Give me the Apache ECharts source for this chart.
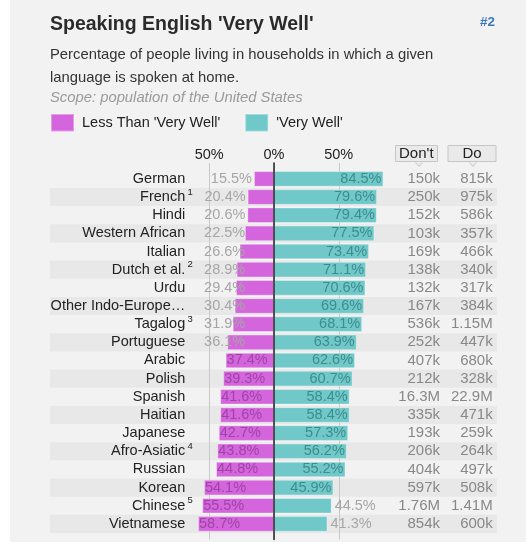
<!DOCTYPE html>
<html><head><meta charset="utf-8">
<script src="https://cdn.jsdelivr.net/npm/echarts@6/dist/echarts.min.js"></script>
<style>
html,body{margin:0;padding:0;background:#fff;}
#panel{position:absolute;left:10px;top:0;width:516px;height:542px;background:#f2f2f2;}
#chart{position:absolute;left:0;top:0;width:526px;height:544px;}
</style></head><body>
<div id="panel"></div><div id="chart"></div>
<script>
const languages = ['German','French','Hindi','Western African','Italian','Dutch et al.','Urdu','Other Indo-Europe\u2026','Tagalog','Portuguese','Arabic','Polish','Spanish','Haitian','Japanese','Afro-Asiatic','Russian','Korean','Chinese','Vietnamese'];
const footnotes = ['','1','','','','2','','','3','','','','','','','4','','','5',''];
const lessThanVeryWell = [15.5,20.4,20.6,22.5,26.6,28.9,29.4,30.4,31.9,36.1,37.4,39.3,41.6,41.6,42.7,43.8,44.8,54.1,55.5,58.7];
const veryWell = [84.5,79.6,79.4,77.5,73.4,71.1,70.6,69.6,68.1,63.9,62.6,60.7,58.4,58.4,57.3,56.2,55.2,45.9,44.5,41.3];
const dontCounts = ['150k','250k','152k','103k','169k','138k','132k','167k','536k','252k','407k','212k','16.3M','335k','193k','206k','404k','597k','1.76M','854k'];
const doCounts = ['815k','975k','586k','357k','466k','340k','317k','384k','1.15M','447k','680k','328k','22.9M','471k','259k','264k','497k','508k','1.41M','600k'];
const percentTicks = [-50, 0, 50];

const FONT = '"Liberation Sans", Arial, Helvetica, sans-serif';
const MAGENTA = '#d465dc', TEAL = '#70c8c8';
const GRAY_LABEL = '#a6a6a6';
const LESS_NAME = "Less Than 'Very Well'", VW_NAME = "'Very Well'";

function lessItem(v, offsetX) {
  if (v >= 37) return {value: -v, label: {position: 'insideLeft', distance: 1, color: '#9e44a6'}};
  return {value: -v, label: {position: 'left', distance: 2, color: GRAY_LABEL, offset: [offsetX || 0, 0]}};
}
function vwItem(v) {
  if (v >= 45) return {value: v, label: {position: 'insideRight', distance: 2, color: '#3e8d8e'}};
  return {value: v, label: {position: 'right', distance: 3, color: GRAY_LABEL}};
}

const chart = echarts.init(document.getElementById('chart'), null, {renderer: 'canvas'});
const labelFmt = p => Math.abs(p.value).toFixed(1) + '%';

const option = {
  backgroundColor: 'transparent',
  animation: false,
  textStyle: {fontFamily: FONT},
  title: [
    {text: "Speaking English 'Very Well'", left: 50, top: 12.5, padding: 0,
     textStyle: {fontSize: 19.5, fontWeight: 'bold', color: '#2b2b2b', lineHeight: 24, fontFamily: FONT}},
    {text: '#2', left: 480, top: 14, padding: 0,
     textStyle: {fontSize: 13.5, fontWeight: 'bold', color: '#3b78c4', lineHeight: 16, fontFamily: FONT}},
    {text: 'Percentage of people living in households in which a given\nlanguage is spoken at home.', left: 50, top: 43.4, padding: 0,
     textStyle: {fontSize: 14.8, fontWeight: 'normal', color: '#333', lineHeight: 23.3, fontFamily: FONT}},
    {text: 'Scope: population of the United States', left: 50, top: 88.3, padding: 0,
     textStyle: {fontSize: 14.8, fontStyle: 'italic', fontWeight: 'normal', color: '#9a9a9a', lineHeight: 20, fontFamily: FONT}},
    {text: "Don't", left: 395, top: 145, padding: [1, 4], backgroundColor: '#eaeaea', borderColor: '#c6c6c6', borderWidth: 1,
     textStyle: {fontSize: 15, fontWeight: 'normal', color: '#222', lineHeight: 15, fontFamily: FONT}},
    {text: 'Do', left: 448, top: 145, padding: [1, 14.5], backgroundColor: '#eaeaea', borderColor: '#c6c6c6', borderWidth: 1,
     textStyle: {fontSize: 15, fontWeight: 'normal', color: '#222', lineHeight: 15, fontFamily: FONT}}
  ],
  legend: {
    left: 50, top: 113, padding: 0, itemGap: 24, itemWidth: 23, itemHeight: 17.5, icon: 'rect',
    data: [LESS_NAME, VW_NAME],
    textStyle: {fontSize: 14.5, color: '#222', fontFamily: FONT, padding: [0, 0, 0, 3]}
  },
  graphic: [
    {type: 'polyline', left: 415, top: 162, z: 100, shape: {points: [[0,0],[3.5,4],[7,0]]}, style: {stroke: '#c6c6c6', fill: '#eaeaea', lineWidth: 1}},
    {type: 'polyline', left: 469, top: 162, z: 100, shape: {points: [[0,0],[3.5,4],[7,0]]}, style: {stroke: '#c6c6c6', fill: '#eaeaea', lineWidth: 1}}
  ],
  grid: [
    {left: 50, top: 169.8, width: 447, height: 363.2, containLabel: false},
    {left: 144.5, top: 163, width: 259, height: 376.5, containLabel: false}
  ],
  xAxis: [
    {gridIndex: 0, type: 'value', min: -173, max: 172.2, show: false},
    {gridIndex: 1, type: 'value', min: -100, max: 100, interval: 50, position: 'top', z: 1,
     axisLine: {show: false, onZero: false}, axisTick: {show: false},
     axisLabel: {show: true, showMinLabel: false, showMaxLabel: false, margin: 1, fontSize: 14.5, color: '#222', fontFamily: FONT,
       formatter: v => percentTicks.includes(v) ? Math.abs(v) + '%' : ''},
     splitLine: {show: true, showMinLine: false, showMaxLine: false, lineStyle: {color: '#c8c8c8', width: 1}}}
  ],
  yAxis: [
    {gridIndex: 0, type: 'category', data: languages, inverse: true, z: 0,
     axisLine: {show: false, onZero: false}, axisTick: {show: false}, splitLine: {show: false},
     splitArea: {show: true, areaStyle: {color: ['rgba(0,0,0,0)', '#e8e8e8']}},
     axisLabel: {interval: 0, margin: -143.7,
       formatter: (v, i) => '{n|' + v + '}{s|' + (footnotes[i] || ' ') + '}',
       rich: {
         n: {fontSize: 14.5, color: '#222', lineHeight: 20, fontFamily: FONT},
         s: {fontSize: 9.5, color: '#222', lineHeight: 9, width: 7, align: 'left', verticalAlign: 'top', padding: [0, 0, 0, 1.5], fontFamily: FONT}
       }}},
    {gridIndex: 0, type: 'category', data: languages, inverse: true, position: 'right', z: 0,
     axisLine: {show: false, onZero: false}, axisTick: {show: false}, splitLine: {show: false}, splitArea: {show: false},
     axisLabel: {interval: 0, margin: -57, align: 'right', fontSize: 15, color: '#888', fontFamily: FONT,
       formatter: (v, i) => dontCounts[i]}},
    {gridIndex: 0, type: 'category', data: languages, inverse: true, position: 'right', z: 0,
     axisLine: {show: false, onZero: false}, axisTick: {show: false}, splitLine: {show: false}, splitArea: {show: false},
     axisLabel: {interval: 0, margin: -4.3, align: 'right', fontSize: 15, color: '#888', fontFamily: FONT,
       formatter: (v, i) => doCounts[i]}},
    {gridIndex: 1, type: 'value', min: 0, max: 1, z: 5,
     axisLine: {show: true, onZero: true, lineStyle: {color: '#222', width: 1.5}},
     axisTick: {show: false}, axisLabel: {show: false}, splitLine: {show: false}}
  ],
  series: [
    {id: 'less', name: LESS_NAME, type: 'bar', xAxisIndex: 0, yAxisIndex: 0, stack: 'total', z: 2,
     barCategoryGap: '14%',
     itemStyle: {color: MAGENTA, borderColor: 'rgba(255,255,255,0.35)', borderWidth: 1},
     label: {show: true, fontSize: 14.5, fontFamily: FONT, formatter: labelFmt},
     data: lessThanVeryWell.map(v => lessItem(v))},
    {id: 'vw', name: VW_NAME, type: 'bar', xAxisIndex: 0, yAxisIndex: 0, stack: 'total', z: 2,
     barCategoryGap: '14%',
     itemStyle: {color: TEAL, borderColor: 'rgba(255,255,255,0.35)', borderWidth: 1},
     label: {show: true, fontSize: 14.5, fontFamily: FONT, formatter: labelFmt},
     data: veryWell.map(v => vwItem(v))}
  ]
};
chart.setOption(option);

// Clamp the outside labels of short bars so they never start left of the -54% mark
const ctx = document.createElement('canvas').getContext('2d');
ctx.font = '14.5px ' + FONT;
const clampX = chart.convertToPixel({xAxisIndex: 0}, -54);
const clamped = lessThanVeryWell.map(v => {
  if (v >= 37) return lessItem(v);
  const barLeft = chart.convertToPixel({xAxisIndex: 0}, -v);
  const w = ctx.measureText(v.toFixed(1) + '%').width;
  const natural = barLeft - 2 - w;
  return lessItem(v, Math.max(0, clampX - natural));
});
chart.setOption({series: [{id: 'less', data: clamped}]});
</script>
</body></html>
